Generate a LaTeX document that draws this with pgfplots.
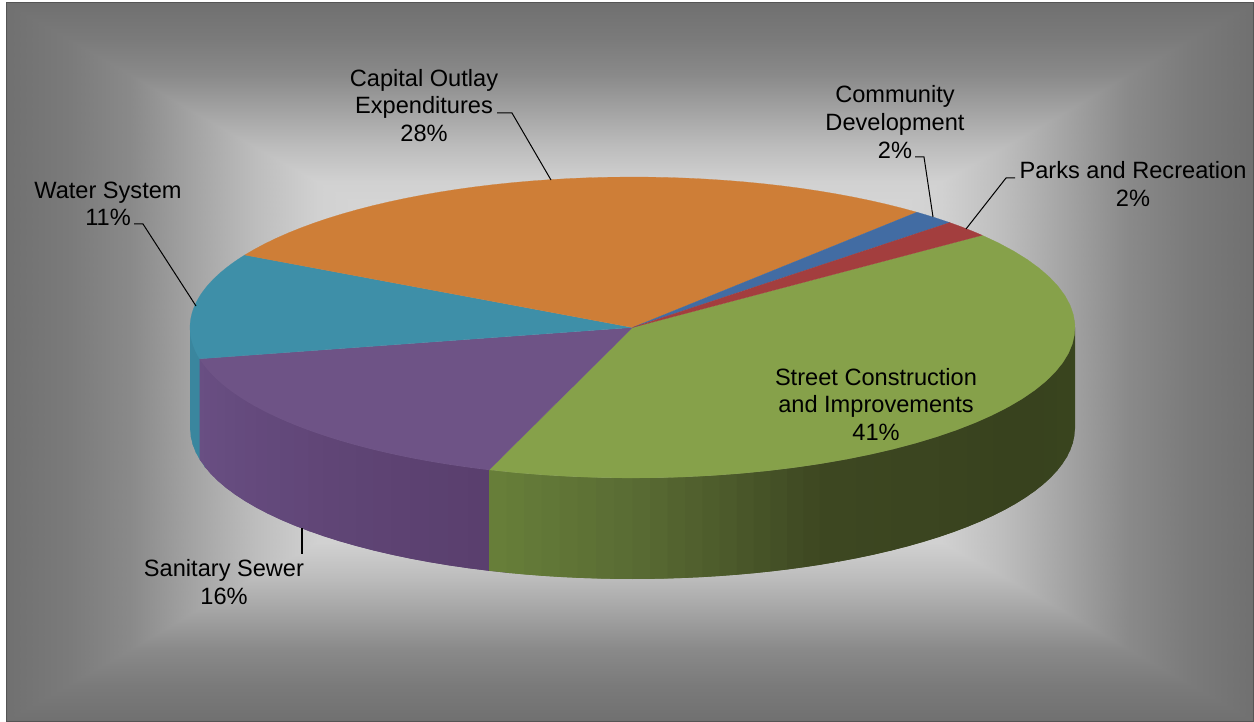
\documentclass[border=0pt]{standalone}
\usepackage{pgfplots}
\pgfplotsset{compat=1.18}
\usepgfplotslibrary{patchplots}
\usepackage{fontspec}
\setmainfont{Liberation Sans}
\definecolor{cgreen}{RGB}{134,161,74}
\definecolor{cpurple}{RGB}{110,83,134}
\definecolor{cteal}{RGB}{62,143,168}
\definecolor{corange}{RGB}{206,126,55}
\definecolor{cblue}{RGB}{66,108,163}
\definecolor{cred}{RGB}{163,62,62}
\tikzset{lab/.style={font=\fontsize{23.6}{27.6}\selectfont,align=center,text=black,inner sep=0pt}}
\def\pcx{632.5}\def\pcy{327.5}\def\prx{442.5}\def\pry{150.5}\def\phh{101}
% top sector between two ellipse angles a,b (degrees), drawn through the axis
\newcommand\slice[3]{%
 \addplot[fill=#3,draw=#3,line width=0.2pt,domain=0:42,samples=43,variable=\s]
  ({\pcx+((\s<0.5||\s>41.5)?0:1)*\prx*cos(#1+(\s-1)*(#2-#1)/40)},
   {\pcy-((\s<0.5||\s>41.5)?0:1)*\pry*sin(#1+(\s-1)*(#2-#1)/40)}) -- cycle;}
% one strip of side wall between angles a,b
\newcommand\wall[5]{%
 \pgfmathsetmacro\wxa{\pcx+\prx*cos(#1)}\pgfmathsetmacro\wya{\pcy-\pry*sin(#1)}%
 \pgfmathsetmacro\wxb{\pcx+\prx*cos(#2)}\pgfmathsetmacro\wyb{\pcy-\pry*sin(#2)}%
 \pgfmathsetmacro\wyc{\wyb+\phh}\pgfmathsetmacro\wyd{\wya+\phh}%
 \edef\wtmp{\noexpand\addplot[fill={rgb,255:red,#3;green,#4;blue,#5},draw=none]
   coordinates {(\wxa,\wya)(\wxb,\wyb)(\wxb,\wyc)(\wxa,\wyd)} -- cycle;}\wtmp}
% strips a..b in steps, each reaching under the next, colour running from one RGB to another
\newcommand\wallrun[9]{%
 \pgfplotsforeachungrouped \wk in {0,...,#3}{%
  \pgfmathsetmacro\wta{#1+(#2-#1)*\wk/(#3+1)}%
  \pgfmathsetmacro\wtb{#1+(#2-#1)*(\wk+2)/(#3+1)}%
  \pgfmathsetmacro\wfr{(\wk+0.5)/(#3+1)}%
  \pgfmathtruncatemacro\wcr{#4+(#7-#4)*\wfr}%
  \pgfmathtruncatemacro\wcg{#5+(#8-#5)*\wfr}%
  \pgfmathtruncatemacro\wcb{#6+(#9-#6)*\wfr}%
  \wall{\wta}{\wtb}{\wcr}{\wcg}{\wcb}}}
\begin{document}
\begin{tikzpicture}
\begin{axis}[
  scale only axis,width=1254pt,height=721pt,
  xmin=0,xmax=1254,ymin=0,ymax=721,y dir=reverse,
  hide axis,clip=false,
  colormap={grey}{gray(0cm)=(0);gray(1cm)=(1)},
  point meta min=0,point meta max=1,
]
% white page margin keeps the full picture size
\addplot[fill=white,draw=none] coordinates {(0,0)(1254,0)(1254,721)(0,721)} -- cycle;
% background: concentric rectangular gradient
\addplot[patch,patch type=rectangle,shader=interp,point meta=explicit] coordinates {
(6,3)[.44](1253,3)[.44](1190.6,38.9)[.48](68.4,38.9)[.48]
(1253,3)[.44](1253,721)[.44](1190.6,685.1)[.48](1190.6,38.9)[.48]
(1253,721)[.44](6,721)[.44](68.4,685.1)[.48](1190.6,685.1)[.48]
(6,721)[.44](6,3)[.44](68.4,38.9)[.48](68.4,685.1)[.48]
(68.4,38.9)[.48](1190.6,38.9)[.48](1128.3,74.8)[.54](130.7,74.8)[.54]
(1190.6,38.9)[.48](1190.6,685.1)[.48](1128.3,649.2)[.54](1128.3,74.8)[.54]
(1190.6,685.1)[.48](68.4,685.1)[.48](130.7,649.2)[.54](1128.3,649.2)[.54]
(68.4,685.1)[.48](68.4,38.9)[.48](130.7,74.8)[.54](130.7,649.2)[.54]
(130.7,74.8)[.54](1128.3,74.8)[.54](1066.9,110.7)[.64](192.1,110.7)[.64]
(1128.3,74.8)[.54](1128.3,649.2)[.54](1066.9,613.3)[.64](1066.9,110.7)[.64]
(1128.3,649.2)[.54](130.7,649.2)[.54](192.1,613.3)[.64](1066.9,613.3)[.64]
(130.7,649.2)[.54](130.7,74.8)[.54](192.1,110.7)[.64](192.1,613.3)[.64]
(192.1,110.7)[.64](1066.9,110.7)[.64](1003.6,146.6)[.74](255.4,146.6)[.74]
(1066.9,110.7)[.64](1066.9,613.3)[.64](1003.6,577.4)[.74](1003.6,146.6)[.74]
(1066.9,613.3)[.64](192.1,613.3)[.64](255.4,577.4)[.74](1003.6,577.4)[.74]
(192.1,613.3)[.64](192.1,110.7)[.64](255.4,146.6)[.74](255.4,577.4)[.74]
(255.4,146.6)[.74](1003.6,146.6)[.74](941.2,182.5)[.82](317.8,182.5)[.82]
(1003.6,146.6)[.74](1003.6,577.4)[.74](941.2,541.5)[.82](941.2,182.5)[.82]
(1003.6,577.4)[.74](255.4,577.4)[.74](317.8,541.5)[.82](941.2,541.5)[.82]
(255.4,577.4)[.74](255.4,146.6)[.74](317.8,182.5)[.82](317.8,541.5)[.82]
(317.8,182.5)[.82](941.2,182.5)[.82](629.5,362)[.92](629.5,362)[.92]
(941.2,182.5)[.82](941.2,541.5)[.82](629.5,362)[.92](629.5,362)[.92]
(941.2,541.5)[.82](317.8,541.5)[.82](629.5,362)[.92](629.5,362)[.92]
(317.8,541.5)[.82](317.8,182.5)[.82](629.5,362)[.92](629.5,362)[.92]
};
\addplot[draw={rgb,255:red,85;green,85;blue,85},line width=1pt] coordinates {(6,3)(1253,3)(1253,721)(6,721)} -- cycle;
% side walls
\wallrun{180}{192}{3}{58}{134}{158}{58}{134}{158}
\wallrun{192}{251.1}{20}{106}{80}{132}{90}{63}{110}
\wallrun{251.1}{270}{7}{104}{128}{58}{90}{108}{52}
\wallrun{270}{295}{10}{90}{108}{52}{62}{72}{34}
\wallrun{295}{330}{12}{62}{72}{34}{56}{66}{30}
\wallrun{330}{360}{10}{56}{66}{30}{58}{70}{30}
% top faces
\slice{37.8}{-108.9}{cgreen}
\slice{251.1}{192}{cpurple}
\slice{192}{151.2}{cteal}
\slice{151.2}{50}{corange}
\slice{50}{44.2}{cblue}
\slice{44.2}{37.8}{cred}
% leader lines
\addplot[black,line width=1pt] coordinates {(497,113)(512,113)(551,180)};
\addplot[black,line width=1pt] coordinates {(915,157)(924,157)(933,217)};
\addplot[black,line width=1pt] coordinates {(1015,178)(1006,178)(966,229)};
\addplot[black,line width=1pt] coordinates {(134,224)(143,224)(196,306)};
\addplot[black,line width=1.4pt] coordinates {(302,528)(302,554)};
% labels
\node[lab] at (axis cs:424,105.5) {Capital Outlay\\Expenditures\\28\%};
\node[lab] at (axis cs:895,122) {Community\\Development\\2\%};
\node[lab] at (axis cs:1133,184) {Parks and Recreation\\2\%};
\node[lab] at (axis cs:108,204) {Water System\\11\%};
\node[lab] at (axis cs:224,582) {Sanitary Sewer\\16\%};
\node[lab] at (axis cs:876,404.5) {Street Construction\\and Improvements\\41\%};
\end{axis}
\end{tikzpicture}
\end{document}
